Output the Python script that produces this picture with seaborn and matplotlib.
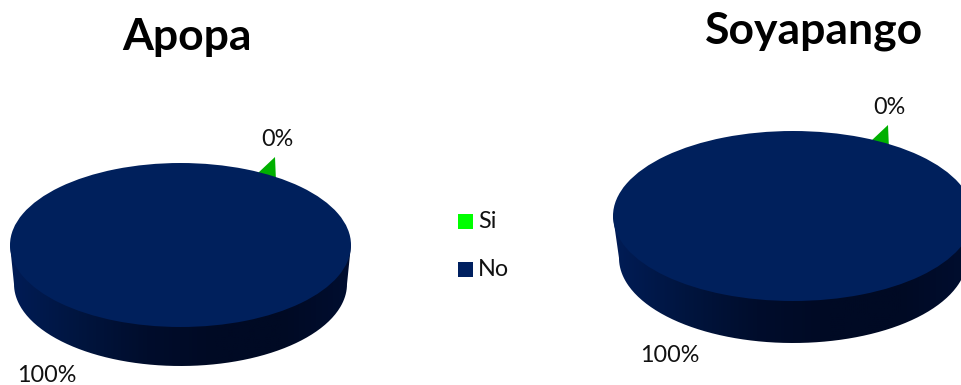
import numpy as np
import matplotlib
matplotlib.use("Agg")
import matplotlib.pyplot as plt
import seaborn as sns
from matplotlib.patches import PathPatch, Rectangle
from matplotlib.path import Path
from matplotlib.colors import LinearSegmentedColormap
from matplotlib.transforms import Affine2D

sns.set_theme(style="white")
plt.rcParams['font.family'] = ['Lato', 'DejaVu Sans']

categories = ["Si", "No"]
apopa_values = [0, 100]
soyapango_values = [0, 100]
titles = ["Apopa", "Soyapango"]
colors = ["#00FF00", "#002060"]
face_color = "#00205C"

W, H = 961, 385
fig = plt.figure(figsize=(W / 100, H / 100), dpi=100)
ax = fig.add_axes([0, 0, 1, 1])


def draw_pie(values, cx, cy, rx, ry, depth, inset, title, title_xy, tip, lab0, lab100):
    # side wall: dark gradient clipped to the extruded outline
    t = np.linspace(0, np.pi, 200)
    bottom = np.c_[cx + (rx - inset) * np.cos(t), cy + depth + ry * np.sin(t)]
    outline = np.r_[[[cx - rx, cy], [cx + rx, cy]], bottom]
    clip = PathPatch(Path(np.r_[outline, outline[:1]]), transform=ax.transData,
                     fc="none", ec="none")
    ax.add_patch(clip)
    cmap = LinearSegmentedColormap.from_list(
        "side", ["#001C56", "#00153F", "#000D2C", "#000A24", "#000A24", "#000E30"])
    img = ax.imshow(np.linspace(0, 1, 256)[None, :], cmap=cmap, aspect="auto",
                    extent=(cx - rx, cx + rx, cy + depth + ry + 2, cy), zorder=1,
                    interpolation="bilinear")
    img.set_clip_path(clip)
    # small green sliver of the 0% slice
    ax.fill([tip[0], tip[0] - 17, tip[0] + 1], [tip[1], tip[1] + 16, tip[1] + 24],
            color="#00B000", lw=0, zorder=1.5)
    # top face: a real pie squashed through an ellipse transform
    wedges, _ = ax.pie(values, colors=["#00B000", face_color], center=(0, 0), radius=1,
                       startangle=90, counterclock=False, frame=True)
    for w in wedges:
        w.set_transform(Affine2D().scale(rx, ry).translate(cx, cy) + ax.transData)
        w.set_zorder(2)
        w.set_linewidth(0)
    ax.text(*title_xy, title, fontsize=32, fontweight="bold", color="black",
            ha="center", va="center")
    ax.text(*lab0, f"{values[0]}%", fontsize=16.8, color="#111111", ha="center", va="center")
    ax.text(*lab100, f"{values[1]}%", fontsize=16.8, color="#111111", ha="center", va="center")


draw_pie(apopa_values, 180.5, 245, 170.5, 82, 39, 4, titles[0], (187, 37), (275, 157),
         (277, 139), (47, 375))
draw_pie(soyapango_values, 793, 216, 180, 85, 42, 6, titles[1], (814, 31), (888, 125),
         (889, 107), (670, 356))

# legend
for name, col, y in zip(categories, colors, [221, 269]):
    ax.add_patch(Rectangle((458, y - 7.5), 15, 15, fc=col, ec="none"))
    ax.text(478, y, name, fontsize=16.8, color="#111111", ha="left", va="center")

ax.set_aspect("auto")
ax.set_xlim(0, W)
ax.set_ylim(H, 0)
ax.set_xticks([])
ax.set_yticks([])
ax.axis("off")
fig.savefig("out.png", dpi=100, facecolor="white")
